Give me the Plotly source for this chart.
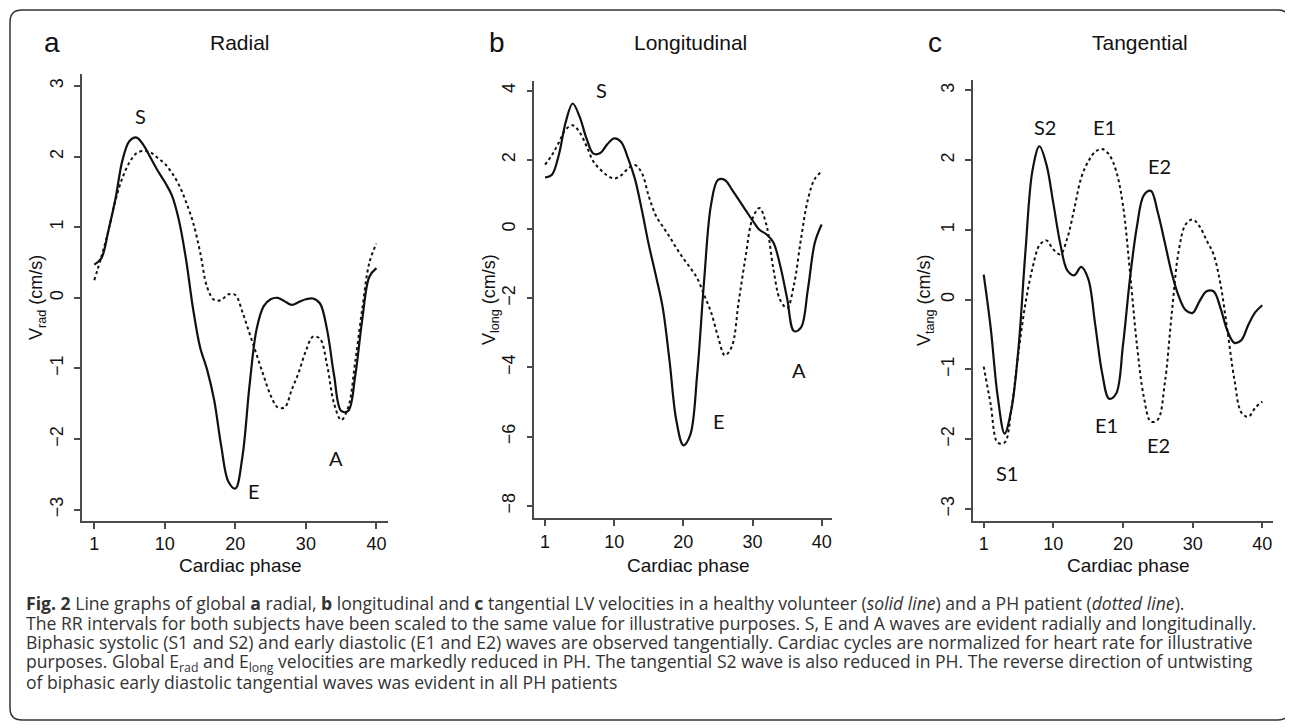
import plotly.graph_objects as go

# the page body adds an 8px margin, so the figure is drawn 8px in from the top-left corner
OFF = 8
W, H = 1293 - OFF, 728 - OFF

# x positions on the phase axis (tick "1" sits at position 0)
phase_pos = list(range(0, 41))
tick_pos = [0, 10, 20, 30, 40]
tick_text = ["1", "10", "20", "30", "40"]

radial_healthy = [0.47, 0.56, 0.95, 1.40, 1.95, 2.22, 2.27, 2.16, 1.98, 1.80,
                  1.64, 1.45, 1.10, 0.55, -0.15, -0.70, -1.02, -1.45, -2.10, -2.60,
                  -2.70, -2.25, -1.25, -0.45, -0.12, -0.02, 0.00, -0.05, -0.10, -0.06,
                  -0.02, -0.01, -0.08, -0.45, -1.10, -1.60, -1.60, -1.10, -0.30, 0.30,
                  0.42]
radial_ph = [0.25, 0.58, 0.95, 1.38, 1.70, 1.92, 2.05, 2.08, 2.06, 1.98,
             1.90, 1.77, 1.60, 1.36, 1.07, 0.65, 0.15, -0.03, -0.03, 0.05,
             0.04, -0.20, -0.50, -0.80, -1.10, -1.38, -1.55, -1.55, -1.30, -1.05,
             -0.75, -0.55, -0.58, -0.95, -1.50, -1.73, -1.55, -0.90, -0.15, 0.50,
             0.77]
long_healthy = [1.49, 1.57, 2.15, 3.10, 3.63, 3.25, 2.62, 2.18, 2.20, 2.45,
                2.62, 2.52, 2.05, 1.45, 0.55, -0.45, -1.32, -2.25, -3.80, -5.55,
                -6.25, -5.95, -4.20, -1.50, 0.70, 1.42, 1.42, 1.15, 0.85, 0.55,
                0.25, -0.02, -0.15, -0.38, -1.05, -2.00, -2.95, -2.85, -1.75, -0.40,
                0.13]
long_ph = [1.86, 2.14, 2.50, 2.88, 3.00, 2.80, 2.40, 1.95, 1.72, 1.55,
           1.46, 1.55, 1.75, 1.85, 1.62, 0.95, 0.40, 0.08, -0.22, -0.55,
           -0.85, -1.12, -1.42, -1.90, -2.40, -3.10, -3.65, -3.40, -2.10, -0.80,
           0.30, 0.61, 0.13, -1.13, -2.05, -2.28, -1.60, -0.30, 0.85, 1.45,
           1.66]
tang_healthy = [0.36, -0.40, -1.38, -1.92, -1.56, -0.69, 0.70, 1.85, 2.20, 1.94,
                1.38, 0.80, 0.42, 0.35, 0.47, 0.30, -0.35, -1.05, -1.42, -1.35,
                -0.65, 0.30, 1.05, 1.50, 1.56, 1.25, 0.82, 0.38, 0.05, -0.15,
                -0.19, -0.02, 0.12, 0.12, -0.12, -0.45, -0.62, -0.58, -0.36, -0.18,
                -0.08]
tang_ph = [-0.96, -1.50, -2.05, -2.05, -1.55, -0.75, -0.05, 0.45, 0.78, 0.85,
           0.72, 0.65, 0.88, 1.30, 1.75, 1.98, 2.12, 2.16, 2.08, 1.85,
           1.35, 0.40, -0.65, -1.40, -1.75, -1.72, -1.20, -0.20, 0.70, 1.08,
           1.15, 1.05, 0.85, 0.65, 0.22, -0.45, -1.15, -1.62, -1.68, -1.55,
           -1.46]

panel_letters = ["a", "b", "c"]
panel_titles = ["Radial", "Longitudinal", "Tangential"]
y_titles = ["V<sub>rad</sub> (cm/s)", "V<sub>long</sub> (cm/s)", "V<sub>tang</sub> (cm/s)"]
x_title = "Cardiac phase"

wave_labels = [
    [("S", 6.5, 2.57), ("E", 22.7, -2.74), ("A", 34.3, -2.27)],
    [("S", 8.2, 4.02), ("E", 25.1, -5.56), ("A", 36.7, -4.07)],
    [("S2", 8.8, 2.48), ("E1", 17.4, 2.48), ("E2", 25.3, 1.91),
     ("E1", 17.6, -1.80), ("E2", 25.1, -2.08), ("S1", 3.3, -2.49)],
]

caption_lines = [
    "<b>Fig. 2</b> Line graphs of global <b>a</b> radial, <b>b</b> longitudinal and <b>c</b> tangential LV velocities in a healthy volunteer (<i>solid line</i>) and a PH patient (<i>dotted line</i>).",
    "The RR intervals for both subjects have been scaled to the same value for illustrative purposes. S, E and A waves are evident radially and longitudinally.",
    "Biphasic systolic (S1 and S2) and early diastolic (E1 and E2) waves are observed tangentially. Cardiac cycles are normalized for heart rate for illustrative",
    "purposes. Global E<sub>rad</sub> and E<sub>long</sub> velocities are markedly reduced in PH. The tangential S2 wave is also reduced in PH. The reverse direction of untwisting",
    "of biphasic early diastolic tangential waves was evident in all PH patients",
]

# layout geometry (pixels in the 1293x728 window)
x_dom_px = [(82, 388), (534.3, 831.7), (972.7, 1273.3)]
y_dom_px = [(74, 521), (81, 518.3), (80, 520.7)]
x_ranges = [(-1.74, 41.64), (-1.55, 41.45), (-1.58, 41.58)]
y_ranges = [(-3.16, 3.17), (-8.36, 4.28), (-3.17, 3.15)]
y_ticks = [[-3, -2, -1, 0, 1, 2, 3], [-8, -6, -4, -2, 0, 2, 4], [-3, -2, -1, 0, 1, 2, 3]]
letter_px = [(52, 42), (497, 42), (935, 42)]
title_px = [(240, 42), (690, 42), (1140, 42)]
ytitle_px = [(37, 298), (490, 300), (925, 300)]

series = [(radial_healthy, radial_ph), (long_healthy, long_ph), (tang_healthy, tang_ph)]


def fx(px):
    return (px - OFF) / W


def fy(py):
    return 1 - (py - OFF) / H


fig = go.Figure()
axis_color = "#4a4a4a"
font_main = "Liberation Sans, Arial, sans-serif"
label_font = "Lato, Noto Sans, sans-serif"

for i in range(3):
    xa = "x" if i == 0 else f"x{i+1}"
    ya = "y" if i == 0 else f"y{i+1}"
    healthy, ph = series[i]
    fig.add_trace(go.Scatter(x=phase_pos, y=healthy, mode="lines", xaxis=xa, yaxis=ya,
                             line=dict(color="#111111", width=2.2, shape="spline", smoothing=1.0),
                             showlegend=False, hoverinfo="skip"))
    fig.add_trace(go.Scatter(x=phase_pos, y=ph, mode="lines", xaxis=xa, yaxis=ya,
                             line=dict(color="#111111", width=2.0, shape="spline", smoothing=1.0,
                                       dash="3px,3px"),
                             showlegend=False, hoverinfo="skip"))
    xkey = "xaxis" if i == 0 else f"xaxis{i+1}"
    ykey = "yaxis" if i == 0 else f"yaxis{i+1}"
    fig.layout[xkey] = dict(domain=[fx(x_dom_px[i][0]), fx(x_dom_px[i][1])],
                            range=list(x_ranges[i]), anchor=ya,
                            tickmode="array", tickvals=tick_pos, ticktext=tick_text,
                            showline=True, linecolor=axis_color, linewidth=1.5,
                            ticks="outside", ticklen=6, tickwidth=1.5, tickcolor=axis_color,
                            showgrid=False, zeroline=False,
                            tickfont=dict(family=font_main, size=18, color="#111111"))
    fig.layout[ykey] = dict(domain=[fy(y_dom_px[i][1]), fy(y_dom_px[i][0])],
                            range=list(y_ranges[i]), anchor=xa,
                            tickmode="array", tickvals=y_ticks[i],
                            showline=True, linecolor=axis_color, linewidth=1.5,
                            ticks="outside", ticklen=6, tickwidth=1.5, tickcolor=axis_color,
                            showgrid=False, zeroline=False, tickangle=-90,
                            ticklabelstandoff=4,
                            tickfont=dict(family=font_main, size=18, color="#111111"))
    # panel letter and title
    fig.add_annotation(x=fx(letter_px[i][0]), y=fy(letter_px[i][1]), xref="paper", yref="paper",
                       text=panel_letters[i], showarrow=False, xanchor="center", yanchor="middle",
                       font=dict(family=font_main, size=28, color="#111111"))
    fig.add_annotation(x=fx(title_px[i][0]), y=fy(title_px[i][1]), xref="paper", yref="paper",
                       text=panel_titles[i], showarrow=False, xanchor="center", yanchor="middle",
                       font=dict(family=font_main, size=21, color="#111111"))
    fig.add_annotation(x=fx(ytitle_px[i][0]), y=fy(ytitle_px[i][1]), xref="paper", yref="paper",
                       text=y_titles[i], showarrow=False, textangle=-90,
                       xanchor="center", yanchor="middle",
                       font=dict(family=font_main, size=18, color="#111111"))
    xmid = (x_dom_px[i][0] + x_dom_px[i][1]) / 2
    fig.add_annotation(x=fx(xmid + 5), y=fy(565), xref="paper", yref="paper",
                       text=x_title, showarrow=False, xanchor="center", yanchor="middle",
                       font=dict(family=font_main, size=19, color="#111111"))
    for (txt, lx, ly) in wave_labels[i]:
        fig.add_annotation(x=lx, y=ly, xref=xa, yref=ya, text=txt, showarrow=False,
                           xanchor="center", yanchor="middle",
                           font=dict(family=label_font, size=20, color="#111111"))

# caption
cap_y = [603, 622.5, 642, 662, 682]
for line, cy in zip(caption_lines, cap_y):
    fig.add_annotation(x=fx(24), y=fy(cy), xref="paper", yref="paper", text=line,
                       showarrow=False, xanchor="left", yanchor="middle", align="left",
                       font=dict(family="Open Sans, Noto Sans, sans-serif", size=17.6, color="#333333"))

# rounded border
x0, x1 = fx(10), fx(1290)
y0, y1 = fy(10), fy(720)
rx, ry = 12 / W, 12 / H
path = (f"M {x0+rx},{y0} L {x1-rx},{y0} Q {x1},{y0} {x1},{y0-ry} "
        f"L {x1},{y1+ry} Q {x1},{y1} {x1-rx},{y1} L {x0+rx},{y1} Q {x0},{y1} {x0},{y1+ry} "
        f"L {x0},{y0-ry} Q {x0},{y0} {x0+rx},{y0} Z")
fig.add_shape(type="path", path=path, xref="paper", yref="paper",
              line=dict(color="#333333", width=1.5))

fig.update_layout(width=W, height=H, margin=dict(l=0, r=0, t=0, b=0),
                  paper_bgcolor="white", plot_bgcolor="white")

fig.write_html("out.html")
